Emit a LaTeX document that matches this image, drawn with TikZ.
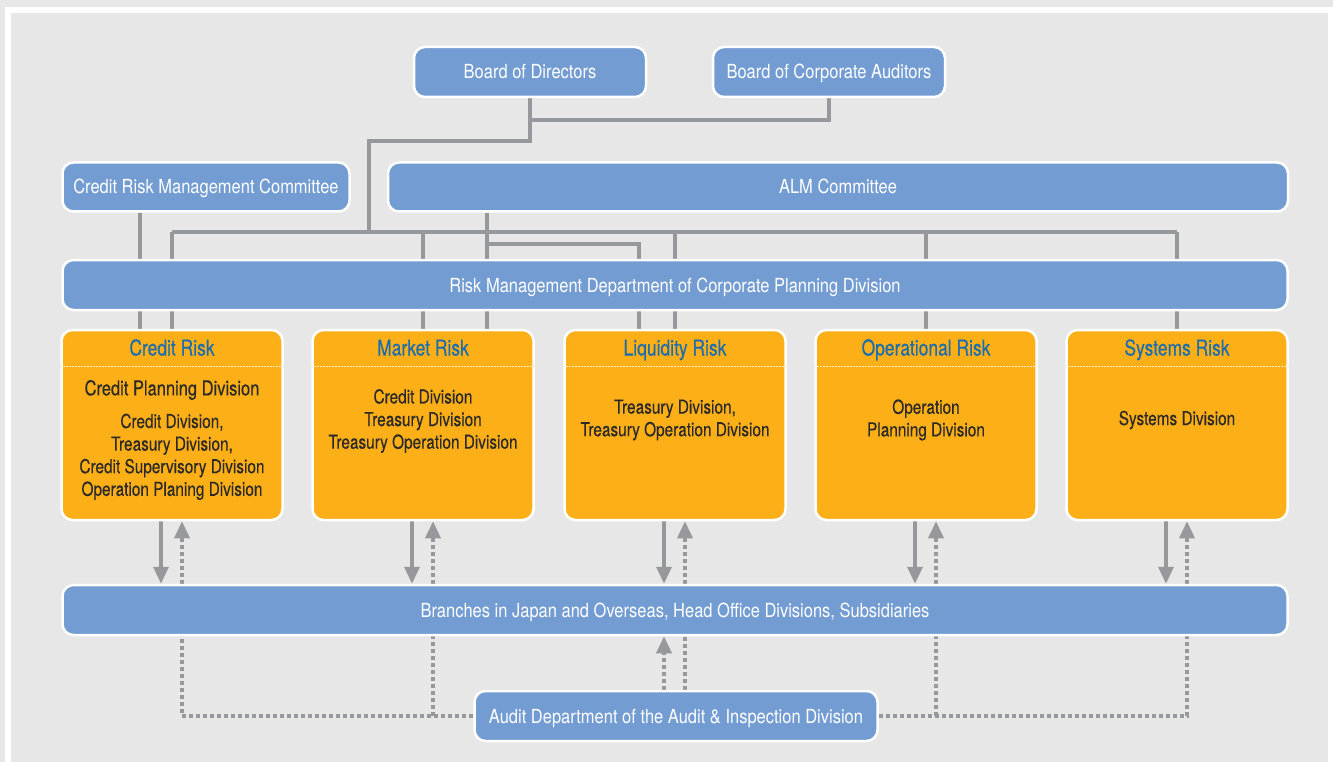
\documentclass[tikz,border=0pt]{standalone}
\usepackage{fontspec}
\setmainfont{TeX Gyre Heros}[FakeStretch=0.85]
\newfontfamily\narrowfont{TeX Gyre Heros}[FakeStretch=0.8, FakeBold=0.3]
\usetikzlibrary{arrows.meta}
\definecolor{bggray}{HTML}{E7E7E7}
\definecolor{boxblue}{HTML}{739CD2}
\definecolor{riskorange}{HTML}{FCAF17}
\definecolor{titleblue}{HTML}{1A6DAE}
\definecolor{textdark}{HTML}{2B2A29}
\definecolor{linegray}{HTML}{97989B}
\pgfdeclarelayer{bg}
\pgfsetlayers{bg,main}

\begin{document}
\begin{tikzpicture}[x=1pt,y=-1pt,
    every node/.style={font=\fontsize{19.4}{22.6}\selectfont},
    unit/.style={draw=white, line width=2.5pt, fill=boxblue, rounded corners=11pt, text=white,
        text height=14pt, text depth=0pt, minimum height=50pt},
    risk/.style={draw=white, line width=2.5pt, fill=riskorange, rounded corners=11pt,
        minimum width=221pt, minimum height=190pt},
    head/.style={text=titleblue, text height=15pt, text depth=0pt, font=\narrowfont\fontsize{21.8}{22.6}\selectfont},
    body/.style={text=textdark, align=center, font=\narrowfont\fontsize{19.2}{22.6}\selectfont},
    sep/.style={draw=white!75!riskorange, line width=1pt, dash pattern=on 1.5pt off 1.5pt},
    link/.style={draw=linegray, line width=3.5pt},
    down/.style={link, -{Triangle[width=15pt,length=17pt]}},
    up/.style={down, dash pattern=on 4pt off 3pt},
    audit/.style={link, dash pattern=on 4pt off 3pt}]
    \useasboundingbox (0,0) rectangle (1333,762);
    \begin{pgfonlayer}{bg}
        \fill[bggray] (0,0) rectangle (1333,762);
        \draw[white, line width=6pt] (8,800) |- (1331,10) -- (1331,800);
    \end{pgfonlayer}

    \node[unit, minimum width=232pt] (bod) at (530,72) {Board of Directors};
    \node[unit, minimum width=232pt] (bca) at (829,72) {Board of Corporate Auditors};
    \node[unit, minimum width=287pt, minimum height=49pt] (crmc) at (206,187) {Credit Risk Management Committee};
    \node[unit, minimum width=900pt, minimum height=49pt] (alm) at (838,187) {ALM Committee};
    \node[unit, minimum width=1225pt] (rmd) at (675,285) {Risk Management Department of Corporate Planning Division};

    \node[risk] (cr) at (172,425) {};
    \node[risk] (mr) at (423,425) {};
    \node[risk] (lr) at (675,425) {};
    \node[risk] (or) at (926,425) {};
    \node[risk] (sr) at (1177,425) {};
    \foreach \n in {cr,mr,lr,or,sr}
        \draw[sep] (\n.west |- 0,366) -- (\n.east |- 0,366);

    \node[head] (crt) at (172,348) {Credit Risk};
    \node[head] (mrt) at (423,348) {Market Risk};
    \node[head] (lrt) at (675,348) {Liquidity Risk};
    \node[head] (ort) at (926,348) {Operational Risk};
    \node[head] (srt) at (1177,348) {Systems Risk};

    \node[body] (crb) at (172,440) {{\fontsize{20.6}{22.6}\selectfont Credit Planning Division}\\[10pt]Credit Division,\\Treasury Division,\\Credit Supervisory Division\\Operation Planing Division};
    \node[body] (mrb) at (423,421) {Credit Division\\Treasury Division\\Treasury Operation Division};
    \node[body] (lrb) at (675,420) {Treasury Division,\\Treasury Operation Division};
    \node[body] (orb) at (926,420) {Operation\\Planning Division};
    \node[body] (srb) at (1177,420) {Systems Division};

    \node[unit, minimum width=1225pt] (br) at (675,610) {Branches in Japan and Overseas, Head Office Divisions, Subsidiaries};
    \node[unit, minimum width=403pt] (audit) at (676,716) {Audit Department of the Audit \& Inspection Division};

    \begin{pgfonlayer}{bg}
        \draw[link] (bca.south) |- (bod.south |- 0,120);
        \draw[link] (bod.south) |- (369,141) -- (369,232);
        \draw[link] (cr.north |- 0,232) -- (sr.north |- 0,232);
        \foreach \n in {cr,mr,lr,or,sr}
            \draw[link] (\n.north) -- (\n.north |- 0,232);
        \coordinate (c1) at ([xshift=-32pt]cr.north);
        \coordinate (m2) at ([xshift=64pt]mr.north);
        \coordinate (l1) at ([xshift=-36pt]lr.north);
        \draw[link] (c1) -- (c1 |- crmc.south);
        \draw[link] (m2) -- (m2 |- alm.south);
        \draw[link] (m2 |- 0,244) -| (l1);

        \foreach \n in {cr,mr,lr,or,sr}{
            \coordinate (\n-d) at ([xshift=-11pt]\n.south);
            \coordinate (\n-u) at ([xshift=10pt]\n.south);
            \draw[down] (\n-d) -- (\n-d |- br.north);
            \draw[up] (\n-u |- br.north) -- (\n-u);
        }
        \draw[audit] (audit.west) -| (cr-u |- br.south);
        \draw[audit] (mr-u |- audit.west) -- (mr-u |- br.south);
        \draw[audit] (audit.east) -| (sr-u |- br.south);
        \draw[audit] (or-u |- audit.east) -- (or-u |- br.south);
        \draw[audit] (lr-u |- audit.north) -- (lr-u |- br.south);
        \draw[up] (lr-d |- audit.north) -- (lr-d |- br.south);
    \end{pgfonlayer}
\end{tikzpicture}
\end{document}
